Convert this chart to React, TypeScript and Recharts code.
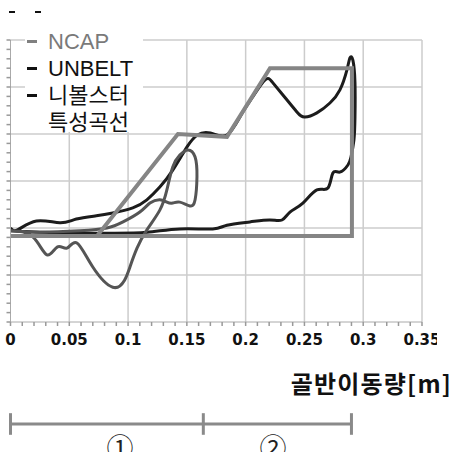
import { Line, LineChart, ReferenceLine, XAxis, YAxis } from "recharts";

// 그래프 값 (x: 골반이동량 [m], y: 하중, 눈금 단위)
const X_MAJOR = [0, 0.05, 0.1, 0.15, 0.2, 0.25, 0.3, 0.35];
const X_LABELS = ["0", "0.05", "0.1", "0.15", "0.2", "0.25", "0.3", "0.35"];
const Y_GRID = [0, 1, 2, 3, 4, 5, 6];

const NCAP_X = [
  0, 0.019, 0.031, 0.04, 0.048, 0.0565, 0.07, 0.087, 0.097, 0.1016, 0.1076, 0.116, 0.127, 0.133,
  0.138, 0.144, 0.151, 0.157, 0.1586, 0.157, 0.1526, 0.144, 0.138, 0.133, 0.127, 0.1186, 0.11,
  0.0957, 0.082, 0.059, 0.025, 0,
];
const NCAP_Y = [
  1.94, 1.81, 1.43, 1.6, 1.57, 1.68, 1.17, 0.74, 0.89, 1.17, 1.57, 1.96, 2.38, 2.81, 3.3, 3.55,
  3.66, 3.51, 3.09, 2.6, 2.47, 2.55, 2.53, 2.55, 2.6, 2.53, 2.34, 2.13, 2.0, 1.94, 1.91, 1.94,
];

const UNBELT_X = [
  0, 0.006, 0.022, 0.042, 0.056, 0.073, 0.087, 0.104, 0.116, 0.127, 0.138, 0.15, 0.159, 0.17,
  0.184, 0.196, 0.206, 0.2165, 0.2225, 0.2317, 0.2436, 0.2504, 0.2606, 0.2717, 0.2802, 0.2861,
  0.2887, 0.2912, 0.293, 0.293, 0.2921, 0.2896, 0.287, 0.2802, 0.2742, 0.27, 0.2606, 0.2487,
  0.2377, 0.2309, 0.2207, 0.2036, 0.1841, 0.172, 0.144, 0.116, 0.087, 0.059, 0.025, 0,
];
const UNBELT_Y = [
  2.0, 1.96, 2.15, 2.11, 2.19, 2.26, 2.32, 2.43, 2.6, 2.87, 3.23, 3.72, 3.98, 4.02, 3.98, 4.4,
  4.79, 5.15, 5.11, 4.83, 4.47, 4.36, 4.45, 4.66, 4.94, 5.36, 5.62, 5.57, 5.09, 4.36, 3.87, 3.51,
  3.34, 3.19, 3.17, 2.85, 2.81, 2.53, 2.34, 2.17, 2.17, 2.13, 2.06, 1.98, 1.98, 1.91, 1.89, 1.89,
  1.91, 1.94,
];

// 니볼스터 특성곡선
const SPEC_X = [0, 0.0736, 0.1424, 0.1841, 0.2207, 0.2904, 0.2904, 0];
const SPEC_Y = [1.83, 1.83, 4.0, 3.94, 5.4, 5.4, 1.83, 1.83];

// 구간 ①, ② 경계
const ZONE_X = [0, 0.164, 0.29];

const pts = (xs: number[], ys: number[]) => xs.map((x, i) => ({ x, y: ys[i] }));
const ncap = pts(NCAP_X, NCAP_Y);
const unbelt = pts(UNBELT_X, UNBELT_Y);
const spec = pts(SPEC_X, SPEC_Y);

const X_TICKS = Array.from({ length: 36 }, (_, i) => +(i * 0.01).toFixed(2));
const Y_TICKS = Array.from({ length: 31 }, (_, i) => +(i * 0.2).toFixed(1));

const XTick = (props: any) => {
  const { x, y, payload } = props;
  const i = X_MAJOR.findIndex((v) => Math.abs(v - payload.value) < 1e-6);
  if (i < 0) return <g />;
  return (
    <text
      x={x}
      y={y}
      dy={11}
      textAnchor="middle"
      style={{ fontFamily: '"DejaVu Sans"', fontWeight: 700, fontSize: 15 }}
      fill="#111"
    >
      {X_LABELS[i]}
    </text>
  );
};

const NoLabel = () => <g />;

const LEGEND = [
  { label: "NCAP", color: "#808080", text: "#7a7a7a" },
  { label: "UNBELT", color: "#111", text: "#111" },
  { label: "니볼스터", color: "#111", text: "#111" },
  { label: "특성곡선", color: "transparent", text: "#111" },
];

const GRID = "#cccccc";
const BRACKET = "#8a8a8a";
const TICK_LINE = { stroke: "#999999", strokeWidth: 1.5 };

export default function App() {
  return (
    <div
      style={{
        position: "absolute",
        left: 0,
        top: 0,
        width: 452,
        height: 452,
        background: "#fff",
        overflow: "hidden",
      }}
    >
      <LineChart width={437} height={452} margin={{ top: 40, right: 15, bottom: 100, left: 0 }}>
        <XAxis
          dataKey="x"
          type="number"
          domain={[0, 0.35]}
          ticks={X_TICKS}
          interval={0}
          height={30}
          tickSize={4}
          tickMargin={8}
          stroke="#aaaaaa"
          tickLine={TICK_LINE}
          tick={<XTick />}
          allowDataOverflow
        />
        <YAxis
          type="number"
          domain={[0, 6]}
          ticks={Y_TICKS}
          interval={0}
          width={10.5}
          tickSize={4}
          tickLine={TICK_LINE}
          tick={<NoLabel />}
          stroke="#aaaaaa"
          allowDataOverflow
        />
        {X_MAJOR.slice(1).map((x) => (
          <ReferenceLine key={"gx" + x} x={x} stroke={GRID} strokeWidth={1.5} />
        ))}
        {Y_GRID.slice(1).map((y) => (
          <ReferenceLine key={"gy" + y} y={y} stroke={GRID} strokeWidth={1.5} />
        ))}
        <Line
          data={unbelt}
          dataKey="y"
          type="natural"
          stroke="#1c1c1c"
          strokeWidth={3}
          dot={false}
          isAnimationActive={false}
        />
        <Line
          data={ncap}
          dataKey="y"
          type="natural"
          stroke="#555555"
          strokeWidth={3}
          dot={false}
          isAnimationActive={false}
        />
        <Line
          data={spec}
          dataKey="y"
          type="linear"
          stroke="#858585"
          strokeWidth={4}
          dot={false}
          isAnimationActive={false}
        />
        <ReferenceLine
          segment={[
            { x: ZONE_X[0], y: -2.17 },
            { x: ZONE_X[2], y: -2.17 },
          ]}
          stroke={BRACKET}
          strokeWidth={3}
          ifOverflow="visible"
        />
        {ZONE_X.map((x) => (
          <ReferenceLine
            key={x}
            segment={[
              { x, y: -1.94 },
              { x, y: -2.4 },
            ]}
            stroke={BRACKET}
            strokeWidth={3}
            ifOverflow="visible"
          />
        ))}
      </LineChart>

      {/* 범례 */}
      <div
        style={{
          position: "absolute",
          left: 25,
          top: 30,
          width: 118,
          height: 102,
          background: "#fff",
        }}
      />
      <div
        style={{
          position: "absolute",
          left: 27,
          top: 28,
          fontFamily: '"Liberation Sans", "Noto Sans CJK KR", sans-serif',
          fontSize: 22,
          lineHeight: "27px",
          whiteSpace: "nowrap",
        }}
      >
        {LEGEND.map((l) => (
          <div key={l.label} style={{ display: "flex", alignItems: "center", height: 27 }}>
            <span
              style={{
                display: "inline-block",
                width: 10,
                height: 2.5,
                background: l.color,
                marginRight: 11,
              }}
            />
            <span style={{ color: l.text }}>{l.label}</span>
          </div>
        ))}
      </div>

      {/* 상단 표시 */}
      <div style={{ position: "absolute", left: 9, top: 11, width: 6, height: 2, background: "#111" }} />
      <div style={{ position: "absolute", left: 35, top: 11, width: 6, height: 2, background: "#111" }} />

      {/* 축 제목 */}
      <div
        style={{
          position: "absolute",
          right: 0,
          top: 368,
          fontFamily: '"Noto Sans CJK KR", sans-serif',
          fontWeight: "bold",
          fontSize: 24,
          lineHeight: "30px",
          letterSpacing: 1.2,
          color: "#111",
          whiteSpace: "nowrap",
        }}
      >
        골반이동량[m]
      </div>

      {/* 구간 번호 */}
      {[
        { t: "①", x: 120 },
        { t: "②", x: 273 },
      ].map((z) => (
        <div
          key={z.t}
          style={{
            position: "absolute",
            left: z.x,
            top: 430,
            transform: "translateX(-50%)",
            fontFamily: '"Noto Sans CJK KR", sans-serif',
            fontSize: 27,
            lineHeight: "34px",
            color: "#222",
          }}
        >
          {z.t}
        </div>
      ))}
    </div>
  );
}
